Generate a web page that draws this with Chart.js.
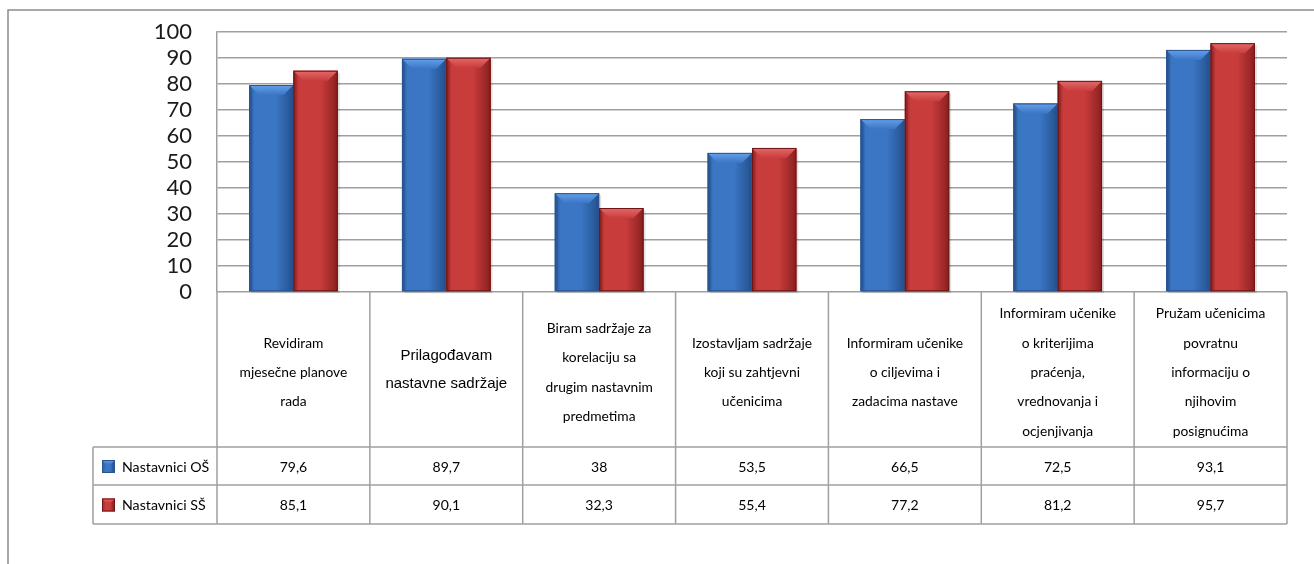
<!DOCTYPE html>
<html>
<head>
<meta charset="utf-8">
<script src="https://cdn.jsdelivr.net/npm/chart.js@4/dist/chart.umd.min.js"></script>
<style>
  html, body { margin: 0; padding: 0; background: #fff; }
  #wrap { width: 1314px; height: 564px; }
</style>
</head>
<body>
<div id="wrap"><canvas id="c" width="1314" height="564"></canvas></div>
<script>
// Categories (as wrapped in the data table)
const categories = [
  ["Revidiram", "mjesečne planove", "rada"],
  ["Prilagođavam", "nastavne sadržaje"],
  ["Biram sadržaje za", "korelaciju sa", "drugim nastavnim", "predmetima"],
  ["Izostavljam sadržaje", "koji su zahtjevni", "učenicima"],
  ["Informiram učenike", "o ciljevima i", "zadacima nastave"],
  ["Informiram učenike", "o kriterijima", "praćenja,", "vrednovanja i", "ocjenjivanja"],
  ["Pružam učenicima", "povratnu", "informaciju o", "njihovim", "posignućima"]
];
const seriesNames = ["Nastavnici OŠ", "Nastavnici SŠ"];
const osValues = [79.6, 89.7, 38, 53.5, 66.5, 72.5, 93.1];
const ssValues = [85.1, 90.1, 32.3, 55.4, 77.2, 81.2, 95.7];
const yTicks = [0, 10, 20, 30, 40, 50, 60, 70, 80, 90, 100];

const palette = [
  { base: "#3a76c4", light: "#64a0ea", dark: "#24508c", edge: "#2b558f" },
  { base: "#c93c3c", light: "#e46a6a", dark: "#8c2020", edge: "#6e1414" }
];
const gridColor = "#a0a0a0";
const fmt = v => String(v).replace(".", ",");

// Draws an Excel-like bevelled bar (or legend key)
function bevelRect(ctx, left, top, right, bottom, col, bev) {
  const w = right - left, h = bottom - top;
  if (w <= 0 || h <= 0) return;
  const b = Math.min(bev, w / 3, h / 2);
  const g = ctx.createLinearGradient(left, 0, right, 0);
  g.addColorStop(0, col.dark);
  g.addColorStop(0.12, col.base);
  g.addColorStop(0.6, col.base);
  g.addColorStop(1, col.dark);
  ctx.fillStyle = g;
  ctx.fillRect(left, top, w, h);
  // top bevel
  const tg = ctx.createLinearGradient(0, top, 0, top + b);
  tg.addColorStop(0, col.light);
  tg.addColorStop(1, col.base);
  ctx.fillStyle = tg;
  ctx.beginPath();
  ctx.moveTo(left, top);
  ctx.lineTo(right, top);
  ctx.lineTo(right - b, top + b);
  ctx.lineTo(left + b, top + b);
  ctx.closePath();
  ctx.fill();
  // side bevels
  const s = Math.min(3, b);
  ctx.globalAlpha = 0.35;
  ctx.fillStyle = col.dark;
  ctx.beginPath();
  ctx.moveTo(right, top); ctx.lineTo(right - s, top + b); ctx.lineTo(right - s, bottom - s); ctx.lineTo(right, bottom);
  ctx.closePath(); ctx.fill();
  ctx.beginPath();
  ctx.moveTo(left, top); ctx.lineTo(left + s, top + b); ctx.lineTo(left + s, bottom - s); ctx.lineTo(left, bottom);
  ctx.closePath(); ctx.fill();
  ctx.globalAlpha = 1;
  ctx.strokeStyle = col.edge;
  ctx.lineWidth = 1;
  ctx.strokeRect(left + 0.5, top + 0.5, w - 1, h - 1);
}

const bevelBars = {
  id: "bevelBars",
  afterDatasetsDraw(chart) {
    const ctx = chart.ctx;
    ctx.save();
    chart.data.datasets.forEach((ds, i) => {
      chart.getDatasetMeta(i).data.forEach(bar => {
        const p = bar.getProps(["x", "y", "width", "base"], true);
        const l = p.x - p.width / 2, r = p.x + p.width / 2;
        // soft shadow
        ctx.fillStyle = "rgba(0,0,0,0.12)";
        ctx.fillRect(l + 2, p.y + 2, p.width, p.base - p.y);
        bevelRect(ctx, l, p.y, r, p.base, palette[i], 10);
      });
    });
    ctx.restore();
  }
};

const dataTable = {
  id: "dataTable",
  beforeDraw(chart) {
    const ctx = chart.ctx;
    ctx.save();
    ctx.fillStyle = "#fff";
    ctx.fillRect(0, 0, chart.width, chart.height);
    // outer chart frame
    ctx.strokeStyle = "#8c8c8c";
    ctx.lineWidth = 1.5;
    ctx.beginPath();
    ctx.moveTo(8, chart.height); ctx.lineTo(8, 10); ctx.lineTo(chart.width, 10);
    ctx.stroke();
    ctx.restore();
  },
  afterDraw(chart) {
    const ctx = chart.ctx;
    const area = chart.chartArea;
    const xs = chart.scales.x;
    const n = categories.length;
    const cw = (area.right - area.left) / n;
    const legLeft = 93;
    const hdrBottom = area.bottom + 155;
    const row1 = hdrBottom + 38;
    const row2 = row1 + 39;
    ctx.save();
    ctx.strokeStyle = gridColor;
    ctx.lineWidth = 1.5;
    ctx.beginPath();
    for (let i = 0; i <= n; i++) {
      const x = area.left + i * cw;
      ctx.moveTo(x, area.bottom); ctx.lineTo(x, row2);
    }
    ctx.moveTo(legLeft, hdrBottom); ctx.lineTo(legLeft, row2);
    [hdrBottom, row1, row2].forEach(y => { ctx.moveTo(legLeft, y); ctx.lineTo(area.right, y); });
    ctx.stroke();

    ctx.fillStyle = "#000";
    ctx.textAlign = "center";
    ctx.textBaseline = "middle";
    const hdrMid = (area.bottom + hdrBottom) / 2 + 3;
    categories.forEach((lines, i) => {
      const cx = xs.getPixelForValue(i);
      const arial = i === 1;
      const lh = arial ? 28 : 29.3;
      ctx.font = arial ? "15px 'Liberation Sans', Arial, sans-serif" : "13.8px Lato, sans-serif";
      const y0 = hdrMid - (lines.length - 1) * lh / 2 - (arial ? 3 : 0);
      lines.forEach((t, k) => ctx.fillText(t, cx, y0 + k * lh));
    });

    const rows = [osValues, ssValues];
    const mids = [(hdrBottom + row1) / 2 + 1, (row1 + row2) / 2 + 1];
    ctx.font = "14px Lato, sans-serif";
    rows.forEach((vals, r) => {
      vals.forEach((v, i) => ctx.fillText(fmt(v), xs.getPixelForValue(i), mids[r]));
    });
    ctx.textAlign = "left";
    ctx.font = "14.2px Lato, sans-serif";
    seriesNames.forEach((name, r) => {
      bevelRect(ctx, 102, mids[r] - 7, 115, mids[r] + 6, palette[r], 5);
      ctx.fillStyle = "#000";
      ctx.fillText(name, 122, mids[r]);
    });
    ctx.restore();
  }
};

new Chart(document.getElementById("c"), {
  type: "bar",
  data: {
    labels: categories,
    datasets: [
      { label: seriesNames[0], data: osValues, backgroundColor: palette[0].base },
      { label: seriesNames[1], data: ssValues, backgroundColor: palette[1].base }
    ]
  },
  options: {
    responsive: false,
    animation: false,
    layout: { padding: { top: 32, right: 27, bottom: 272, left: 0 } },
    datasets: { bar: { categoryPercentage: 0.58, barPercentage: 1.0 } },
    plugins: { legend: { display: false }, tooltip: { enabled: false } },
    scales: {
      x: { display: false },
      y: {
        min: 0,
        max: 100,
        afterFit: s => { s.width = 217; s.paddingTop = 0; s.paddingBottom = 0; },
        afterBuildTicks: s => { s.ticks = yTicks.map(v => ({ value: v })); },
        grid: { color: gridColor, lineWidth: 1.5, drawTicks: false },
        border: { color: gridColor, width: 1.5 },
        ticks: { color: "#1a1a1a", padding: 25, autoSkip: false, font: { family: "Lato", size: 22, lineHeight: 1 } }
      }
    }
  },
  plugins: [dataTable, bevelBars]
});
</script>
</body>
</html>
